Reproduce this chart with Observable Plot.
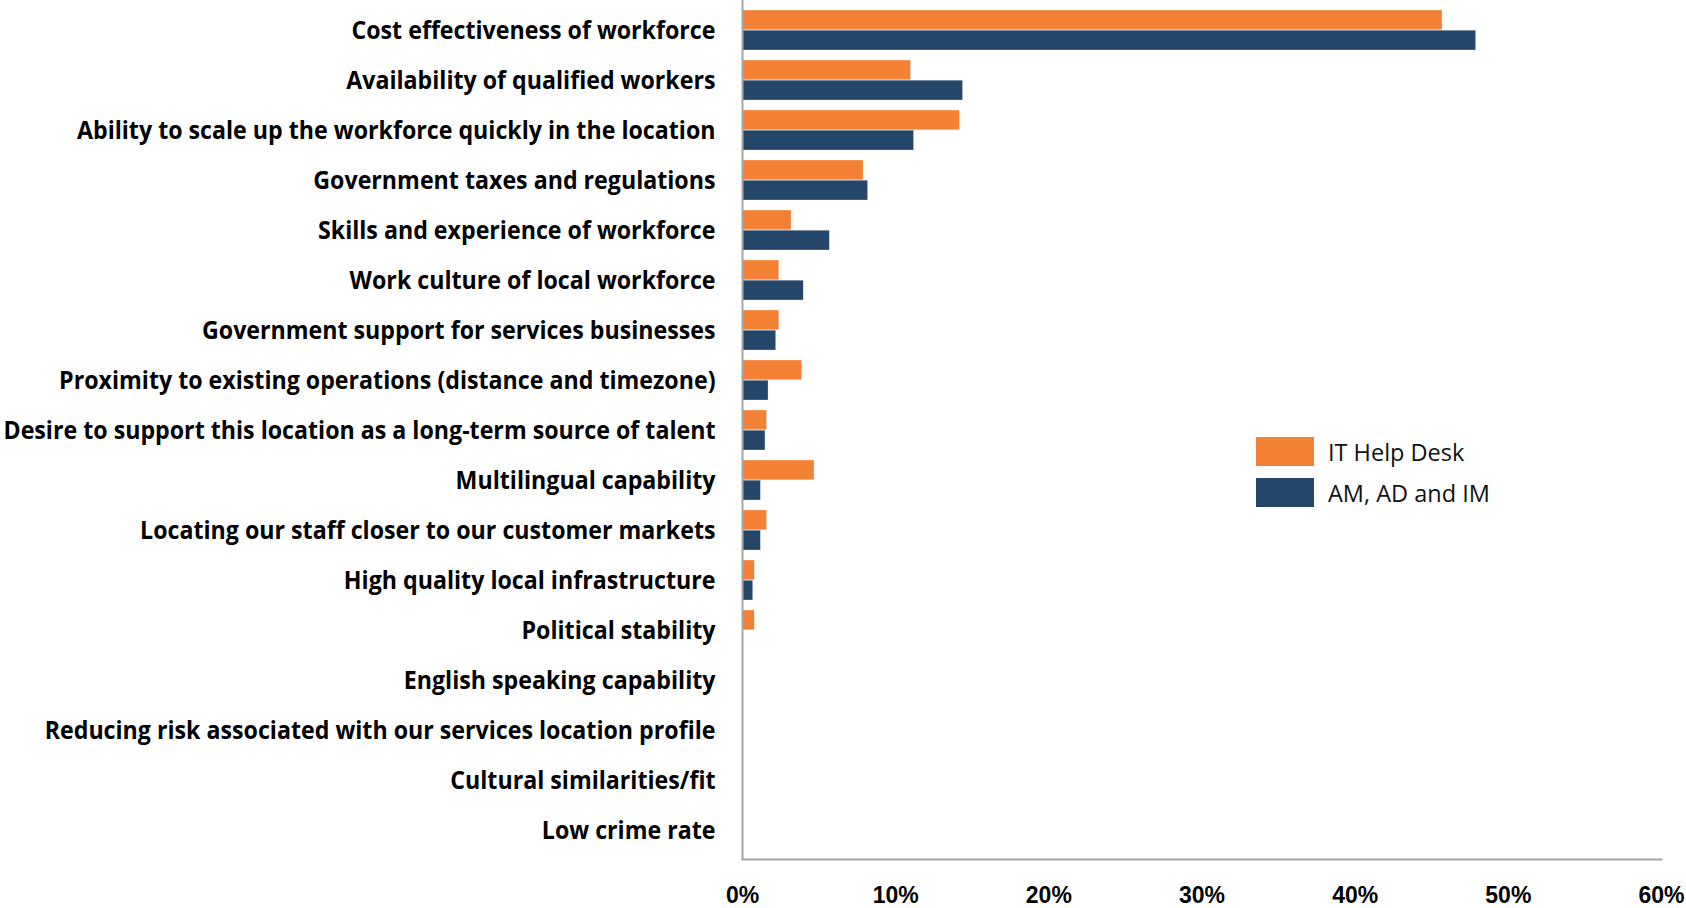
<!DOCTYPE html>
<html>
<head>
<meta charset="utf-8">
<script src="https://cdn.jsdelivr.net/npm/d3@7"></script>
<script src="https://cdn.jsdelivr.net/npm/@observablehq/plot@0.6"></script>
<style>
  html, body { margin: 0; padding: 0; background: #fff; }
  #wrap { position: relative; width: 1686px; height: 908px; }
  #chart svg { display: block; }
  #chart g[aria-label="y-axis tick label"] text { font-family: "Open Sans", sans-serif; font-weight: 700; fill: #000; }
  #chart g[aria-label="x-axis tick label"] text { font-family: "Liberation Sans", sans-serif; font-weight: 700; fill: #000; }
  .legend { position: absolute; left: 1256px; font-family: "Open Sans", sans-serif; font-size: 23.5px; color: #111; }
  .legend .row { display: flex; align-items: center; height: 29px; margin-bottom: 12px; }
  .legend .sw { width: 58px; height: 29px; margin-right: 14px; }
</style>
</head>
<body>
<div id="wrap">
  <div id="chart"></div>
  <div class="legend" id="legend" style="top:437px"></div>
</div>
<script>
const categories = [
  "Cost effectiveness of workforce",
  "Availability of qualified workers",
  "Ability to scale up the workforce quickly in the location",
  "Government taxes and regulations",
  "Skills and experience of workforce",
  "Work culture of local workforce",
  "Government support for services businesses",
  "Proximity to existing operations (distance and timezone)",
  "Desire to support this location as a long-term source of talent",
  "Multilingual capability",
  "Locating our staff closer to our customer markets",
  "High quality local infrastructure",
  "Political stability",
  "English speaking capability",
  "Reducing risk associated with our services location profile",
  "Cultural similarities/fit",
  "Low crime rate"
];
const seriesNames = ["IT Help Desk", "AM, AD and IM"];
const helpDesk = [45.7, 11.0, 14.2, 7.9, 3.2, 2.4, 2.4, 3.9, 1.6, 4.7, 1.6, 0.8, 0.8, 0, 0, 0, 0];
const amAdIm   = [47.9, 14.4, 11.2, 8.2, 5.7, 4.0, 2.2, 1.7, 1.5, 1.2, 1.2, 0.7, 0, 0, 0, 0, 0];
const xTicks = [0, 10, 20, 30, 40, 50, 60];
const colors = ["#F28135", "#244668"];

const rowsA = categories.map((c, i) => ({category: c, value: helpDesk[i], series: seriesNames[0]}));
const rowsB = categories.map((c, i) => ({category: c, value: amAdIm[i], series: seriesNames[1]}));

const half = 20.2;

const chart = Plot.plot({
  width: 1686,
  height: 908,
  marginLeft: 742,
  marginRight: 25,
  marginTop: 0,
  marginBottom: 49,
  style: {background: "#fff"},
  x: {domain: [0, 60], axis: null},
  y: {domain: categories, paddingInner: 0.2, paddingOuter: 0.1, axis: null},
  color: {domain: seriesNames, range: colors},
  marks: [
    Plot.barX(rowsA, {x: "value", y: "category", fill: "series", insetBottom: half, stroke: "#fff", strokeWidth: 0.6, strokeOpacity: 0.5}),
    Plot.barX(rowsB, {x: "value", y: "category", fill: "series", insetTop: half, stroke: "#fff", strokeWidth: 0.6, strokeOpacity: 0.5}),
    Plot.ruleX([0], {stroke: "#a6a6a6", strokeWidth: 2}),
    Plot.frame({anchor: "bottom", stroke: "#a6a6a6", strokeWidth: 2}),
    Plot.axisY({tickSize: 0, tickPadding: 27, fontSize: 23.2, label: null}),
    Plot.axisX({ticks: xTicks, tickSize: 0, tickPadding: 27.5, fontSize: 23, tickFormat: d => d + "%", label: null})
  ]
});
document.getElementById("chart").appendChild(chart);

// slightly taller category labels, as in the reference
d3.select(chart).selectAll('g[aria-label="y-axis tick label"] text').each(function() {
  const t = this.getAttribute("transform") || "";
  this.setAttribute("transform", t + " scale(1,1.1)");
});

const legend = document.getElementById("legend");
seriesNames.forEach((s, i) => {
  const row = document.createElement("div");
  row.className = "row";
  const sw = document.createElement("div");
  sw.className = "sw";
  sw.style.background = colors[i];
  const t = document.createElement("span");
  t.textContent = s;
  row.appendChild(sw);
  row.appendChild(t);
  legend.appendChild(row);
});
</script>
</body>
</html>
